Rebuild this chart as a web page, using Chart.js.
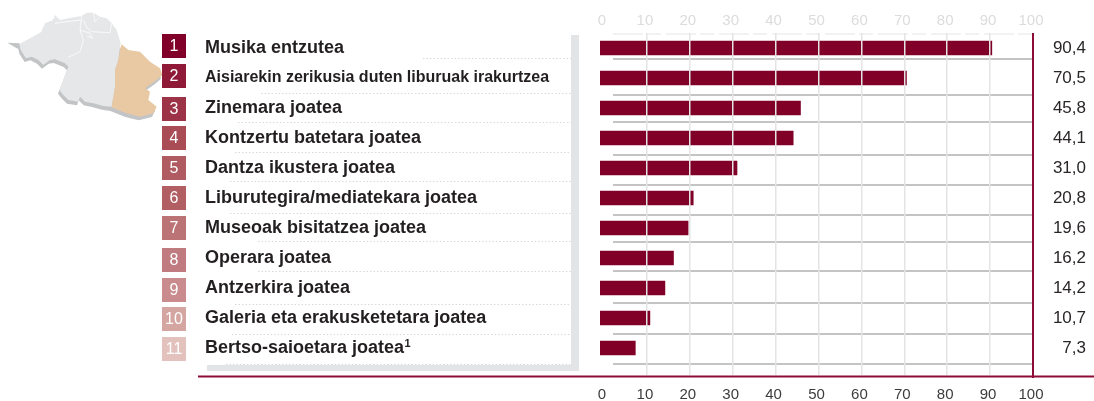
<!DOCTYPE html>
<html>
<head>
<meta charset="utf-8">
<script src="https://cdn.jsdelivr.net/npm/chart.js@4"></script>
<style>
html,body{margin:0;padding:0;background:#fff;overflow:hidden}
#wrap{position:relative;width:1094px;height:401px}
#map{position:absolute;left:0;top:0}
canvas{position:absolute;left:0;top:0}
</style>
</head>
<body>
<div id="wrap">
<svg id="map" width="170" height="130" viewBox="0 0 510 390">
  <g transform="translate(-4,11)" fill="#c2c4c6">
    <path d="M58 132 L90 115 L125 95 L135 70 L160 60 L165 45 L180 60 L205 55 L245 48 L260 38 L280 38 L300 50 L320 55 L335 70 L350 90 L365 133 L385 150 L420 155 L450 185 L480 205 L487 225 L470 240 L435 265 L450 275 L445 300 L470 320 L460 340 L420 350 L380 340 L335 322 L310 318 L280 310 L255 305 L240 290 L235 305 L205 300 L190 285 L178 270 L190 240 L205 200 L195 190 L165 178 L150 180 L130 195 L115 180 L95 170 L78 175 L62 150 Z"/>
  </g>
  <path d="M22 128 L58 130 L70 150 L50 145 Z" fill="#c2c4c6"/>
  <path fill="#e6e7e8" d="M58 132 L90 115 L125 95 L135 70 L160 60 L165 45 L180 60 L205 55 L245 48 L260 38 L280 38 L300 50 L320 55 L335 70 L350 90 L362 130 L360 140 L355 180 L345 210 L345 260 L335 320 L310 318 L280 310 L255 305 L240 290 L235 305 L205 300 L190 285 L178 270 L190 240 L205 200 L195 190 L165 178 L150 180 L130 195 L115 180 L95 170 L78 175 L62 150 Z"/>
  <path fill="#e8c9a3" d="M365 133 L385 150 L420 155 L450 185 L480 205 L487 225 L470 240 L435 265 L450 275 L445 300 L470 320 L460 340 L420 350 L380 340 L335 322 L345 260 L345 210 L355 180 L362 140 Z"/>
  <g fill="none" stroke="#fff" stroke-width="2.2">
    <path d="M205 172 L240 155 L250 120 L240 90 L245 48"/>
    <path d="M240 90 L270 100 L278 115 L262 108"/>
    <path d="M250 60 L262 85 L275 95 L330 98 L335 70"/>
    <path d="M280 38 L285 65 L300 50"/>
    <path d="M165 70 L200 65 L245 60"/>
  </g>
</svg>
<canvas id="c" width="1094" height="401"></canvas>
</div>
<script>
const categories = [
  "Musika entzutea",
  "Aisiarekin zerikusia duten liburuak irakurtzea",
  "Zinemara joatea",
  "Kontzertu batetara joatea",
  "Dantza ikustera joatea",
  "Liburutegira/mediatekara joatea",
  "Museoak bisitatzea joatea",
  "Operara joatea",
  "Antzerkira joatea",
  "Galeria eta erakusketetara joatea",
  "Bertso-saioetara joatea"
];
const values = [90.4, 70.5, 45.8, 44.1, 31.0, 20.8, 19.6, 16.2, 14.2, 10.7, 7.3];
const valueLabels = ["90,4","70,5","45,8","44,1","31,0","20,8","19,6","16,2","14,2","10,7","7,3"];
const ranks = ["1","2","3","4","5","6","7","8","9","10","11"];
const tickValues = [0,10,20,30,40,50,60,70,80,90,100];
const rankColors = ["#80002a","#8f1a38","#9c3347","#a94c56","#b05a62","#b25f63","#bb7376","#bf7b80","#c98b8d","#d5a5a2","#e3c1bd"];
const rankTops = [34,64,97,126,156,186,216,248,278,307,337];
const ruleYs = [59,95,122,155,185,215,242,271,303,334,364];
const dotted = [[58,423],[93,261],[122,238],[152,235],[181,230],[213,230],[241,258],[271,258],[304,235],[334,232],[364,226]];

const axisMin = -0.93;
const setTicks = s => { s.ticks = tickValues.map(v => ({value:v})); };

const decor = {
  id:'decor',
  beforeDatasetsDraw(ch){
    const c = ch.ctx, x = ch.scales.x;
    c.save();
    c.fillStyle = '#e3e4e6';
    c.fillRect(571,35,8,336);
    c.fillRect(207,365,372,6);
    c.strokeStyle = '#d9d9d9'; c.lineWidth = 1; c.setLineDash([1.5,2]);
    dotted.forEach(([y,x0]) => { c.beginPath(); c.moveTo(x0,y+.5); c.lineTo(571,y+.5); c.stroke(); });
    c.setLineDash([]);
    c.strokeStyle = '#eeeeee'; c.lineWidth = 1.5; c.setLineDash([30,4,14,5]);
    c.beginPath(); c.moveTo(613,34); c.lineTo(x.getPixelForValue(100),34); c.stroke();
    c.setLineDash([]);
    c.strokeStyle = '#c4c4c4'; c.lineWidth = 2;
    ruleYs.forEach(y => { c.beginPath(); c.moveTo(613,y); c.lineTo(x.getPixelForValue(100)-1,y); c.stroke(); });
    c.font = '16px "Liberation Sans"'; c.textAlign='center'; c.textBaseline='middle';
    ranks.forEach((r,i) => {
      c.fillStyle = rankColors[i]; c.fillRect(162,rankTops[i],24,24);
      c.fillStyle = '#ffffff'; c.fillText(r,174,rankTops[i]+12.5);
    });
    c.restore();
  },
  afterDraw(ch){
    const c = ch.ctx, x = ch.scales.x, y = ch.scales.y;
    c.save();
    c.fillStyle = '#8e0d36';
    c.fillRect(x.getPixelForValue(100)-1,33,2,345);
    c.fillRect(198,375.5,896,2);
    const last = categories.length-1;
    c.font = 'bold 18px "Liberation Sans"';
    const w = c.measureText(categories[last]).width;
    c.font = 'bold 11px "Liberation Sans"';
    c.fillStyle = '#231f20'; c.textAlign='left'; c.textBaseline='middle';
    c.fillText('1', 205+w+0.5, y.getPixelForValue(last)-4);
    c.restore();
  }
};

new Chart(document.getElementById('c'), {
  type:'bar',
  data:{ labels:categories, datasets:[{
    data:values, base:axisMin, backgroundColor:'#800028', borderWidth:0,
    barThickness:14, xAxisID:'x', yAxisID:'y'
  }]},
  plugins:[decor],
  options:{
    indexAxis:'y', responsive:false, animation:false,
    layout:{padding:{left:205,right:8,top:0,bottom:0}},
    plugins:{legend:{display:false},tooltip:{enabled:false}},
    scales:{
      x:{ type:'linear', position:'bottom', min:axisMin, max:100, afterBuildTicks:setTicks,
          afterFit(s){ s.height = 38; },
          border:{display:false},
          grid:{ z:1, lineWidth:1.5, tickLength:12, tickWidth:1.5,
                 color:ctx => ctx.index===0 || ctx.index===10 ? 'rgba(0,0,0,0)' : '#e4e4e4',
                 tickColor:ctx => ctx.index===0 || ctx.index===10 ? 'rgba(0,0,0,0)' : '#e4e4e4',
                 borderDash:[44,5,80,5,6,5,44,4,39,5,27,3,28,3,29,3] },
          ticks:{ color:'#3c3c3c', font:{family:'"Liberation Sans"',size:15}, padding:11, labelOffset:-2, maxRotation:0, autoSkip:false, callback:v=>v } },
      x2:{ type:'linear', position:'top', min:axisMin, max:100, afterBuildTicks:setTicks,
          afterFit(s){ s.height = 33; },
          border:{display:false},
          grid:{ display:false, drawTicks:false },
          ticks:{ color:'#dcdcdc', font:{family:'"Liberation Sans"',size:15}, padding:3, labelOffset:-2, maxRotation:0, autoSkip:false, callback:v=>v } },
      y:{ type:'category', position:'left', offset:true,
          afterFit(s){ s.width = 395; },
          border:{display:false}, grid:{display:false, drawTicks:false},
          ticks:{ crossAlign:'far', padding:0, autoSkip:false, color:'#231f20',
                  font:ctx => ({family:'"Liberation Sans"',weight:'bold',size:ctx.index===1?16:18}) } },
      y2:{ type:'category', position:'right', offset:true, labels:valueLabels,
          afterFit(s){ s.width = 53; },
          border:{display:false}, grid:{display:false, drawTicks:false},
          ticks:{ crossAlign:'far', padding:0, autoSkip:false, color:'#2a2627', font:{family:'"Liberation Sans"',size:17} } }
    }
  }
});
</script>
</body>
</html>
